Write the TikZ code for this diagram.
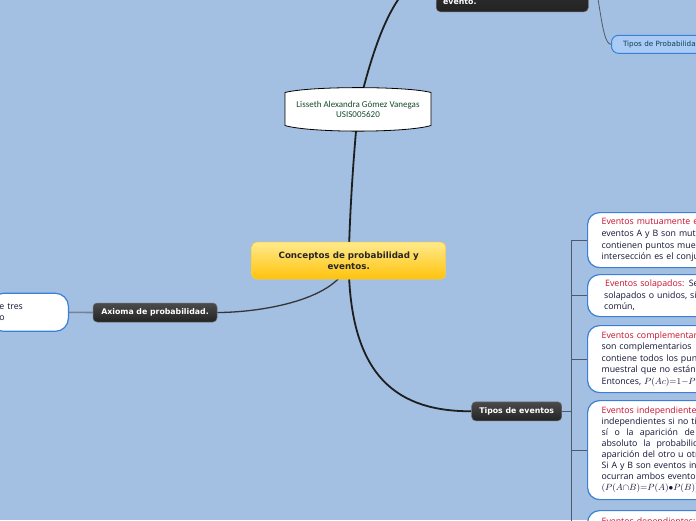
\documentclass[tikz,border=0pt]{standalone}
\usepackage{fontspec}
\newfontfamily\osans{Open Sans}
\newfontfamily\dvs{DejaVu Sans}
\newfontfamily\carl{Carlito}
\usetikzlibrary{calc}
\pgfdeclarelayer{bg}
\pgfdeclarelayer{edges}
\pgfsetlayers{bg,edges,main}
\definecolor{bgblue}{RGB}{163,191,226}
\definecolor{evred}{RGB}{200,16,46}
\definecolor{navytxt}{RGB}{20,20,56}
\definecolor{nodeblue}{RGB}{58,128,216}
\definecolor{lisgreen}{RGB}{23,74,44}
\definecolor{tpfill}{RGB}{169,203,246}
\definecolor{tptext}{RGB}{18,62,80}
\definecolor{darktop}{RGB}{75,75,75}
\definecolor{darkbot}{RGB}{35,35,35}
\definecolor{ytop}{RGB}{255,234,140}
\definecolor{ymid}{RGB}{255,218,85}
\definecolor{ybot}{RGB}{255,194,10}
\definecolor{edgedark}{RGB}{30,30,30}
\definecolor{edgegrey}{RGB}{78,90,106}
\definecolor{edgelight}{RGB}{115,132,154}
\newcommand\redt[1]{\textcolor{evred}{#1}}
\begin{document}
\begin{tikzpicture}[x=1pt,y=-1pt,
  darkbox/.style={rounded corners=4pt, top color=darktop, bottom color=darkbot, draw=darktop!80!white,
    line width=0.5pt, text=white, font=\dvs\bfseries\fontsize{7.8}{10}\selectfont, inner sep=0pt},
  darktext/.style={text=white, font=\dvs\bfseries\fontsize{7.8}{10}\selectfont, inner sep=0pt},
  cbox/.style={rounded corners=5pt, top color=ytop, middle color=ymid, bottom color=ybot, draw=ybot!80!white,
    line width=0.5pt, text=black!85, align=center, font=\dvs\bfseries\fontsize{8.7}{10.8}\selectfont, inner sep=0pt},
  rbox/.style={rounded corners=12pt, fill=white, draw=nodeblue, line width=1.2pt, inner xsep=14pt, inner ysep=0pt,
    text=navytxt, align=left, text width=200pt, font=\osans\fontsize{8.8}{11.6}\selectfont},
  tpbox/.style={rounded corners=7pt, fill=tpfill, draw=nodeblue, line width=1pt, inner xsep=11.5pt, inner ysep=0pt,
    text=tptext, align=left, text width=100pt, font=\dvs\fontsize{7.2}{9}\selectfont},
  mainedge/.style={draw=edgedark, line width=1.8pt},
  subedge/.style={draw=edgedark!90!white, line width=1.3pt},
  brk/.style={draw=edgegrey, line width=1pt},
  thinedge/.style={draw=edgegrey, line width=0.8pt},
  leftedge/.style={draw=edgelight, line width=1.6pt}
]
\useasboundingbox (0,0) rectangle (696,520);
\begin{pgfonlayer}{bg}
  \fill[bgblue] (0,0) rectangle (696,520);
\end{pgfonlayer}

% top dark node (cut off)
\node[darkbox, minimum width=152pt, minimum height=84pt, anchor=south west] (ev) at (436,12) {};
\node[darktext, anchor=base west] (evt) at (443,4.7) {evento.};

% Tipos de Probabilidad
\node[tpbox, minimum height=18pt, anchor=west] (tp) at (611,44.3) {Tipos de Probabilidad};

% Lisseth banner
\draw[fill=white, draw=black, line width=0.8pt] (285,92.5) .. controls (310,86) and (406,86) .. (431,92.5)
  -- (431,125.5) .. controls (406,133) and (310,133) .. (285,125.5) -- cycle;
\node[font=\carl\fontsize{9}{10}\selectfont, text=lisgreen, align=center, inner sep=0pt] (lis) at (358,109.5)
  {Lisseth Alexandra Gómez Vanegas\\USIS005620};

% central node
\node[cbox, minimum width=194pt, minimum height=37pt] (c) at (348.7,260.7) {Conceptos de probabilidad y\\eventos.};

% Axioma
\node[darkbox, minimum width=124pt, minimum height=19pt] (axi) at (155,312.5) {Axioma de probabilidad.};
\node[rbox, text width=60pt, inner xsep=9pt, rounded corners=13pt, minimum height=38pt, anchor=east,
  font=\osans\fontsize{8.8}{11.3}\selectfont] (lx) at (69,312.3) {e tres\\o};

% Tipos de eventos
\node[darkbox, minimum width=90pt, minimum height=19pt] (te) at (516.7,411.3) {Tipos de eventos};

% right children
\node[rbox, minimum height=55pt, anchor=north west] (e1) at (587,212) {%
\redt{Eventos mutuamente excluyentes:}\\
eventos A y B son mutuamente\\
contienen puntos muestrales\\
intersección es el conjunto};
\node[rbox, minimum height=42pt, anchor=north west] (e2) at (587,274) {%
\hspace*{3.5pt}\redt{Eventos solapados:} Se\\
\hspace*{2.5pt}solapados o unidos, si\\
\hspace*{2.5pt}común,};
\node[rbox, minimum height=67pt, anchor=north west] (e3) at (587,325) {%
\redt{Eventos complementarios:}\\
son complementarios\\
contiene todos los puntos\\
muestral que no están\\
Entonces, $P(Ac){=}1{-}P(A)$};
\node[rbox, minimum height=99pt, anchor=north west, font=\osans\fontsize{8.8}{11}\selectfont] (e4) at (587,400) {%
\redt{Eventos independientes:}\\
independientes si no tienen\\
{\spaceskip=6.5pt\relax sí o la aparición de}\\
{\spaceskip=6pt\relax absoluto la probabilidad}\\
aparición del otro u otros.\\
Si A y B son eventos independientes\\
ocurran ambos eventos\\
$(P(A{\cap}B){=}P(A){\bullet}P(B))$};
\node[rbox, anchor=north west, inner ysep=7pt, text height=6.5pt, text depth=30pt] (e5) at (587,510) {%
\redt{Eventos dependientes:}};

% connectors
\begin{pgfonlayer}{edges}
  \draw[mainedge] (c.center) .. controls (350,200) and (355,140) .. (lis.center);
  \draw[mainedge] (lis.center) .. controls (375,40) and (395,-20) .. (ev.west);
  \draw[thinedge] (ev.east) .. controls (600,-20) and (600,44.3) .. (tp.west);
  \draw[subedge] (c.center) .. controls (340,300) and (260,312.5) .. (axi.east);
  \draw[leftedge] (axi.west) -- (lx.east);
  \draw[mainedge] (c.center) .. controls (349,380) and (400,411.3) .. (te.west);
  \draw[brk] (te.east) -- ++(10,0) |- (e1.west);
  \draw[brk] (te.east) -- ++(10,0) |- (e2.west);
  \draw[brk] (te.east) -- ++(10,0) |- (e3.west);
  \draw[brk] (te.east) -- ++(10,0) |- (e4.west);
  \draw[brk] (te.east) -- ++(10,0) |- (e5.west);
\end{pgfonlayer}
\end{tikzpicture}
\end{document}
